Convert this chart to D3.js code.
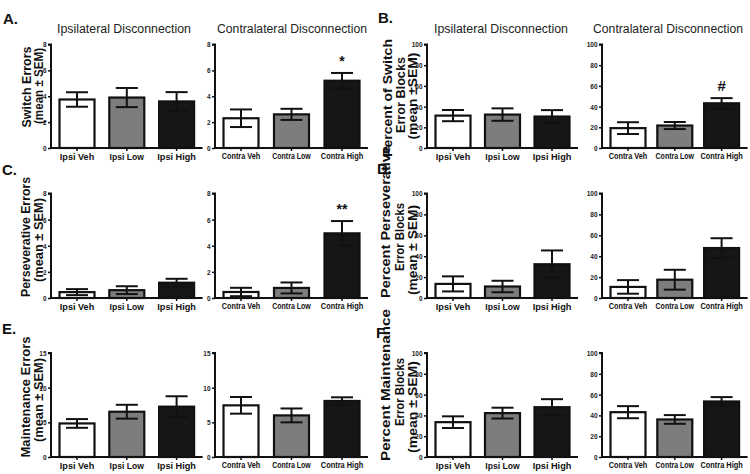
<!DOCTYPE html>
<html><head><meta charset="utf-8">
<script src="https://cdn.jsdelivr.net/npm/d3@7"></script>
<style>
html,body{margin:0;padding:0;background:#fff;}
svg{display:block;font-family:"Liberation Sans",Arial,sans-serif;}
</style></head>
<body><svg id="c" width="750" height="474"></svg>
<script>
// ---- data ----
const ipsiCats = ["Ipsi Veh", "Ipsi Low", "Ipsi High"];
const contraCats = ["Contra Veh", "Contra Low", "Contra High"];
const groupTitles = ["Ipsilateral Disconnection", "Contralateral Disconnection"];

const switchErrIpsi = [3.75, 3.9, 3.6], switchErrIpsiSem = [0.56, 0.74, 0.72];
const switchErrContra = [2.3, 2.6, 5.2], switchErrContraSem = [0.68, 0.43, 0.6];
const switchPctIpsi = [31.3, 32.3, 30.4], switchPctIpsiSem = [5.4, 6.0, 6.2];
const switchPctContra = [19.2, 21.7, 43.2], switchPctContraSem = [5.7, 3.4, 5.0];
const persErrIpsi = [0.45, 0.6, 1.17], persErrIpsiSem = [0.23, 0.3, 0.3];
const persErrContra = [0.46, 0.77, 4.95], persErrContraSem = [0.32, 0.42, 0.94];
const persPctIpsi = [13.5, 11, 32.3], persPctIpsiSem = [7.2, 5.5, 13.2];
const persPctContra = [10.6, 17.5, 47.8], persPctContraSem = [6.5, 9.5, 9.4];
const maintErrIpsi = [4.84, 6.53, 7.26], maintErrIpsiSem = [0.63, 1.0, 1.5];
const maintErrContra = [7.45, 6.0, 8.08], maintErrContraSem = [1.2, 1.0, 0.53];
const maintPctIpsi = [33.5, 42.2, 47.9], maintPctIpsiSem = [5.6, 5.2, 7.7];
const maintPctContra = [43.1, 36.1, 53.4], maintPctContraSem = [5.8, 4.2, 4.2];

const ticks8 = [0, 2, 4, 6, 8];
const ticks100 = [0, 20, 40, 60, 80, 100];
const ticks15 = [0, 5, 10, 15];

const panelLetters = ["A.", "B.", "C.", "D.", "E.", "F."];
const yLabels = [
  ["Switch Errors", "(mean \u00b1 SEM)"],
  ["Percent of Switch", "Error Blocks", "(mean \u00b1SEM)"],
  ["Perseverative Errors", "(mean \u00b1 SEM)"],
  ["Percent Perseverative", "Error Blocks", "(mean \u00b1 SEM)"],
  ["Maintenance Errors", "(mean \u00b1 SEM)"],
  ["Percent Maintenance", "Error Blocks", "(mean \u00b1 SEM)"]
];
// significance markers for contra high bar (panel index -> symbol)
const sigMarks = {0: "*", 1: "#", 2: "**"};

// ---- layout ----
const svg = d3.select("#c");
const fills = ["#ffffff", "#7d7d7d", "#161616"];
const rows = [{top: 44.5, bot: 148}, {top: 193.5, bot: 298}, {top: 353, bot: 457}];
const cols = [
  {axis: 51, step: 49.8},
  {axis: 215, step: 50.5},
  {axis: 427, step: 49.5},
  {axis: 602, step: 46.8}
];
const titleX = [124, 292, 501, 668];
const bw = 35, outer = 8.5;

const panels = [
  {row: 0, side: 0, ticks: ticks8, max: 8, data: [[switchErrIpsi, switchErrIpsiSem], [switchErrContra, switchErrContraSem]]},
  {row: 0, side: 1, ticks: ticks100, max: 100, data: [[switchPctIpsi, switchPctIpsiSem], [switchPctContra, switchPctContraSem]]},
  {row: 1, side: 0, ticks: ticks8, max: 8, data: [[persErrIpsi, persErrIpsiSem], [persErrContra, persErrContraSem]]},
  {row: 1, side: 1, ticks: ticks100, max: 100, data: [[persPctIpsi, persPctIpsiSem], [persPctContra, persPctContraSem]]},
  {row: 2, side: 0, ticks: ticks15, max: 15, data: [[maintErrIpsi, maintErrIpsiSem], [maintErrContra, maintErrContraSem]]},
  {row: 2, side: 1, ticks: ticks100, max: 100, data: [[maintPctIpsi, maintPctIpsiSem], [maintPctContra, maintPctContraSem]]}
];

const letterPos = [[3, 24], [378, 23], [2, 175], [377, 174], [2, 334], [376, 338]];
// per label line: [x center, y center, length]
const ylabGeom = [
  [[26, 87, 81], [38.5, 86, 76]],
  [[387, 98, 118], [400, 95, 76], [412.5, 96, 87]],
  [[25.5, 237, 120], [38, 240, 84]],
  [[385, 222, 152], [399, 237, 68], [412, 250, 90]],
  [[25.5, 397, 121], [38, 400, 84]],
  [[385, 385, 152], [399, 392, 68], [412, 407, 92]]
];

panels.forEach((p, pi) => {
  const r = rows[p.row];
  const y = d3.scaleLinear().domain([0, p.max]).range([r.bot, r.top]);
  p.data.forEach((ser, gi) => {
    const c = cols[p.side * 2 + gi];
    const cats = gi === 0 ? ipsiCats : contraCats;
    const pInner = 1 - bw / c.step, pOuter = outer / c.step;
    const width = c.step * (3 - pInner + 2 * pOuter);
    const x = d3.scaleBand().domain(cats).range([c.axis, c.axis + width]).paddingInner(pInner).paddingOuter(pOuter);
    const g = svg.append("g");
    const rows3 = cats.map((k, i) => ({k, v: ser[0][i], e: ser[1][i], i}));
    // bars
    g.selectAll("rect").data(rows3).join("rect")
      .attr("x", d => x(d.k)).attr("width", x.bandwidth())
      .attr("y", d => y(d.v)).attr("height", d => y(0) - y(d.v))
      .attr("fill", d => fills[d.i]).attr("stroke", "#111").attr("stroke-width", 2.2);
    // error bars
    const eg = g.selectAll("g.err").data(rows3).join("g").attr("class", "err");
    eg.append("line").attr("x1", d => x(d.k) + x.bandwidth() / 2).attr("x2", d => x(d.k) + x.bandwidth() / 2)
      .attr("y1", d => y(d.v - d.e)).attr("y2", d => y(d.v + d.e)).attr("stroke", "#111").attr("stroke-width", 2);
    [1, -1].forEach(s => {
      eg.append("line").attr("x1", d => x(d.k) + x.bandwidth() / 2 - 11).attr("x2", d => x(d.k) + x.bandwidth() / 2 + 11)
        .attr("y1", d => y(d.v + s * d.e)).attr("y2", d => y(d.v + s * d.e)).attr("stroke", "#111").attr("stroke-width", 2);
    });
    // y axis
    const ya = d3.axisLeft(y).tickValues(p.ticks).tickSize(3).tickPadding(1.5).tickFormat(d3.format("d"));
    const yg = g.append("g").attr("transform", `translate(${c.axis},0)`).call(ya);
    yg.select(".domain").attr("stroke", "#111").attr("stroke-width", 2).attr("d", `M-3,${r.top}H0V${r.bot}`);
    yg.selectAll(".tick line").attr("stroke", "#111").attr("stroke-width", 1.5);
    yg.selectAll(".tick text").attr("font-size", 7.5).attr("font-weight", "bold").attr("fill", "#222")
      .each(function (d) {
        const n = String(d).length;
        d3.select(this).attr("textLength", n * 3.6).attr("lengthAdjust", "spacingAndGlyphs");
      });
    // x axis
    const xa = d3.axisBottom(x).tickSize(3).tickPadding(2);
    const xg = g.append("g").attr("transform", `translate(0,${r.bot})`).call(xa);
    xg.select(".domain").attr("stroke", "#111").attr("stroke-width", 2).attr("d", `M${c.axis},0H${c.axis + width}`);
    xg.selectAll(".tick line").attr("stroke", "#111").attr("stroke-width", 1.5);
    xg.selectAll(".tick text").attr("font-size", gi === 0 ? 9.5 : 8.5).attr("font-weight", "bold").attr("fill", "#111")
      .attr("dy", "0.72em")
      .each(function (d) {
        const len = gi === 0 ? d.length * 4.3 : d.length * 3.85;
        d3.select(this).attr("textLength", len).attr("lengthAdjust", "spacingAndGlyphs");
      });
    // titles
    if (p.row === 0) {
      g.append("text").attr("x", titleX[p.side * 2 + gi]).attr("y", 33)
        .attr("text-anchor", "middle").attr("font-size", 12.5).attr("fill", "#222")
        .attr("textLength", gi === 0 ? 134 : 150).attr("lengthAdjust", "spacingAndGlyphs")
        .text(groupTitles[gi]);
    }
    // significance
    if (gi === 1 && sigMarks[pi] !== undefined) {
      const d = rows3[2];
      g.append("text").attr("x", x(d.k) + x.bandwidth() / 2).attr("y", y(d.v + d.e) - 7)
        .attr("text-anchor", "middle").attr("font-size", sigMarks[pi] === "#" ? 15 : 14)
        .attr("font-weight", "bold").attr("fill", "#111").text(sigMarks[pi]);
    }
  });
  // panel letter
  svg.append("text").attr("x", letterPos[pi][0]).attr("y", letterPos[pi][1])
    .attr("font-size", 15).attr("font-weight", "bold").attr("fill", "#111").text(panelLetters[pi]);
  // y label
  yLabels[pi].forEach((t, li) => {
    const [lx, ly, len] = ylabGeom[pi][li];
    svg.append("text").attr("transform", `translate(${lx},${ly}) rotate(-90)`)
      .attr("text-anchor", "middle").attr("font-size", 12.5).attr("font-weight", "bold")
      .attr("dy", "0.36em").attr("fill", "#111")
      .attr("textLength", len).attr("lengthAdjust", "spacingAndGlyphs").text(t);
  });
});
</script></body></html>
